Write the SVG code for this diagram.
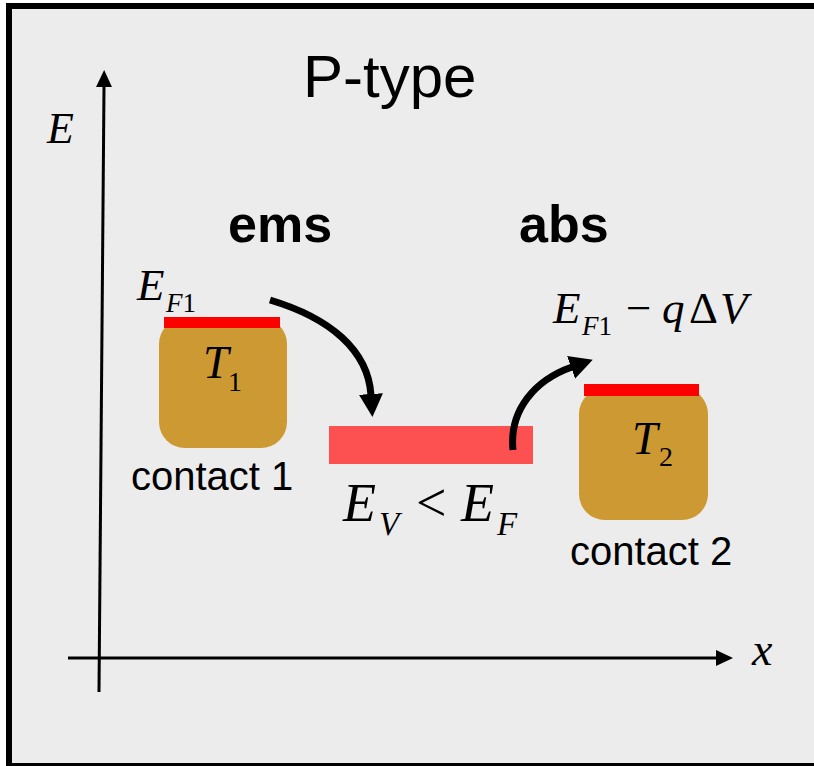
<svg xmlns="http://www.w3.org/2000/svg" width="814" height="766" viewBox="0 0 814 766">
<defs>
<style>
.sans{font-family:"Liberation Sans",Arial,sans-serif;fill:#000}
.serif{font-family:"Liberation Serif","Times New Roman",serif;fill:#000}
.it{font-style:italic}
.contact{fill:#CD9933}
.level{fill:#FF0000}
.axis{stroke:#000;stroke-width:3;fill:none}
.flow{stroke:#000;stroke-width:7;fill:none}
</style>
<marker id="axisHead" markerUnits="userSpaceOnUse" markerWidth="18" markerHeight="16" refX="0" refY="8" orient="auto">
<path d="M0,0 L17,8 L0,16 z" fill="#000"/>
</marker>
<marker id="flowHead" markerUnits="userSpaceOnUse" markerWidth="24" markerHeight="26" refX="1" refY="12" orient="auto">
<path d="M0,0 L23,12 L0,24 z" fill="#000"/>
</marker>
</defs>
<rect x="0" y="0" width="814" height="766" fill="#ffffff"/>
<rect id="frame" x="9" y="6" width="850" height="760" fill="#ECECEC" stroke="#000" stroke-width="6"/>
<text id="title" class="sans" x="303" y="97" font-size="60">P-type</text>
<g id="axes">
<line class="axis" x1="99" y1="692" x2="104" y2="87" marker-end="url(#axisHead)"/>
<line class="axis" x1="68" y1="658" x2="716" y2="658" marker-end="url(#axisHead)"/>
<text class="serif it" x="47" y="143" font-size="44">E</text>
<text class="serif it" x="752" y="665" font-size="46">x</text>
</g>
<text id="ems" class="sans" x="228" y="242" font-size="52" font-weight="bold">ems</text>
<text id="abs" class="sans" x="519" y="242" font-size="52" font-weight="bold">abs</text>
<g id="contact1">
<rect class="contact" x="159" y="318" width="128" height="130" rx="26" ry="26"/>
<rect class="level" x="164" y="317" width="116" height="11"/>
<text class="serif it" x="137" y="300" font-size="45">E</text>
<text class="serif" x="166" y="312" font-size="27"><tspan font-style="italic">F</tspan>1</text>
<text class="serif it" x="203" y="378" font-size="46">T</text>
<text class="serif" x="228" y="391" font-size="28">1</text>
<text class="sans" x="131" y="490" font-size="40">contact 1</text>
</g>
<g id="band">
<rect x="329" y="426" width="204" height="38" fill="#FD5050"/>
<text class="serif it" x="343" y="521" font-size="54">E</text>
<text class="serif it" x="379" y="535" font-size="33">V</text>
<text class="serif" x="416" y="521" font-size="54">&lt;</text>
<text class="serif it" x="461" y="521" font-size="54">E</text>
<text class="serif it" x="497" y="535" font-size="33">F</text>
</g>
<g id="contact2">
<rect class="contact" x="579" y="388" width="129" height="132" rx="26" ry="26"/>
<rect class="level" x="584" y="384" width="115" height="12"/>
<text class="serif it" x="553" y="323" font-size="45">E</text>
<text class="serif" x="582" y="335" font-size="27"><tspan font-style="italic">F</tspan>1</text>
<text class="serif" x="626" y="323" font-size="45">−</text>
<text class="serif it" x="662" y="323" font-size="45">q</text>
<text class="serif" x="689" y="323" font-size="45">Δ</text>
<text class="serif it" x="720" y="323" font-size="45">V</text>
<text class="serif it" x="632" y="454" font-size="46">T</text>
<text class="serif" x="659" y="466" font-size="28">2</text>
<text class="sans" x="570" y="565" font-size="40">contact 2</text>
</g>
<g id="connectors">
<path class="flow" d="M270,300 C330,318 368,350 371,395" marker-end="url(#flowHead)"/>
<path class="flow" d="M513,450 C509,410 535,380 572,367" marker-end="url(#flowHead)"/>
</g>
</svg>
